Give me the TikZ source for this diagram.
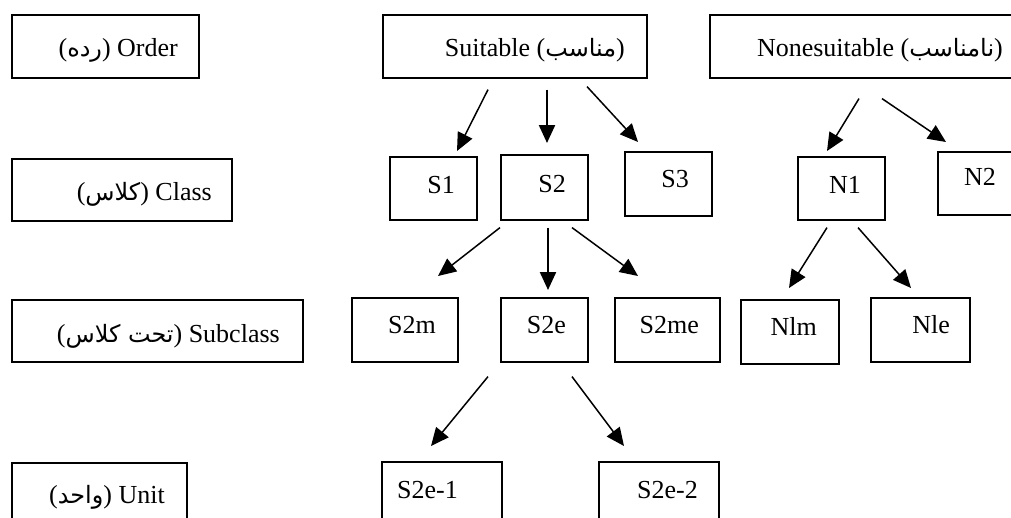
\documentclass[tikz,border=0pt]{standalone}
\usepackage{fontspec}
\setmainfont{Liberation Serif}
\newfontfamily\arfont[Script=Arabic,Scale=0.92]{DejaVu Sans}
\TeXXeTstate=1
\usetikzlibrary{arrows.meta}
\tikzset{
  boxst/.style={draw, line width=1.6pt, inner sep=0pt},
  txt/.style={inner sep=0pt, font=\fontsize{26}{30}\selectfont},
  arr/.style={line width=1.5pt, -{Triangle[length=18pt,width=16pt]}},
  arrv/.style={line width=2.2pt, -{Triangle[length=18pt,width=16pt]}},
}
% name, x1, y1, x2, y2, text right edge, baseline, text
\newcommand\mkbox[8]{%
  \node[boxst, minimum width={#4-#2}, minimum height={#5-#3}, anchor=north west] (#1) at (#2,-#3) {};
  \node[txt, anchor=base east] (#1t) at (#6,-#7) {#8};
}
\begin{document}
\begin{tikzpicture}[x=1pt,y=1pt]
\useasboundingbox (0,0) rectangle (1011,-517);
\clip (0,0) rectangle (1011,-517);
% labels
\mkbox{order}{11}{14}{198}{77}{178}{56}{({\arfont\beginR رده\endR}) Order}
\mkbox{class}{11}{158}{231}{220}{212}{200}{({\arfont\beginR کلاس\endR}) Class}
\mkbox{subclass}{11}{299}{302}{361}{280}{342}{({\arfont\beginR تحت کلاس\endR}) Subclass}
\mkbox{unit}{11}{462}{186}{540}{165}{503}{({\arfont\beginR واحد\endR}) Unit}
% order row
\mkbox{suit}{382}{14}{646}{77}{625}{56}{Suitable ({\arfont\beginR مناسب\endR})}
\mkbox{nons}{709}{14}{1030}{77}{1003}{56}{Nonesuitable ({\arfont\beginR نامناسب\endR})}
% class row
\mkbox{s1}{389}{156}{476}{219}{455}{193}{S1}
\mkbox{s2}{500}{154}{587}{219}{566}{192}{S2}
\mkbox{s3}{624}{151}{711}{215}{689}{187}{S3}
\mkbox{n1}{797}{156}{884}{219}{861}{193}{N1}
\mkbox{n2}{937}{151}{1030}{214}{996}{185}{N2}
% subclass row
\mkbox{s2m}{351}{297}{457}{361}{436}{333}{S2m}
\mkbox{s2e}{500}{297}{587}{361}{566}{333}{S2e}
\mkbox{s2me}{614}{297}{719}{361}{699}{333}{S2me}
\mkbox{nlm}{740}{299}{838}{363}{817}{335}{Nlm}
\mkbox{nle}{870}{297}{969}{361}{950}{333}{Nle}
% unit row
\mkbox{s2ea}{381}{461}{501}{540}{458}{498}{S2e-1}
\mkbox{s2eb}{598}{461}{718}{540}{698}{498}{S2e-2}
% connectors
\draw[arr]  ([shift={(106,-11)}]suit.south west) -- ([shift={(68,5)}]s1.north west);
\draw[arrv] ([shift={(165,-11)}]suit.south west) -- ([shift={(47,11)}]s2.north west);
\draw[arr]  ([shift={(205,-8)}]suit.south west) -- ([shift={(14,9)}]s3.north west);
\draw[arr]  ([shift={(150,-20)}]nons.south west) -- ([shift={(30,5)}]n1.north west);
\draw[arr]  ([shift={(173,-20)}]nons.south west) -- ([shift={(9,9)}]n2.north west);
\draw[arr]  ([shift={(0,-7)}]s2.south west) -- ([shift={(87,21)}]s2m.north west);
\draw[arrv] ([shift={(48,-7)}]s2.south west) -- ([shift={(48,7)}]s2e.north west);
\draw[arr]  ([shift={(72,-7)}]s2.south west) -- ([shift={(24,21)}]s2me.north west);
\draw[arr]  ([shift={(30,-7)}]n1.south west) -- ([shift={(49,11)}]nlm.north west);
\draw[arr]  ([shift={(61,-7)}]n1.south west) -- ([shift={(41,9)}]nle.north west);
\draw[arr]  ([shift={(-12,-14)}]s2e.south west) -- ([shift={(50,15)}]s2ea.north west);
\draw[arr]  ([shift={(72,-14)}]s2e.south west) -- ([shift={(26,15)}]s2eb.north west);
\end{tikzpicture}
\end{document}
